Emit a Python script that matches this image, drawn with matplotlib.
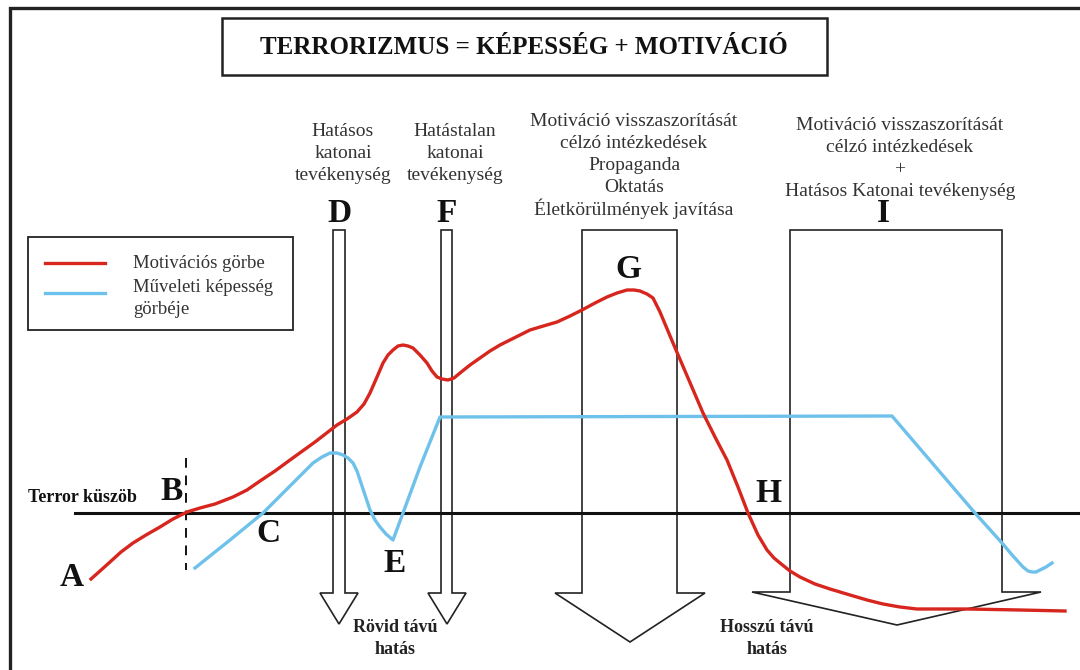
import matplotlib.pyplot as plt
from matplotlib.patches import Polygon, Rectangle

# diagram coordinates (x to the right, y downwards)
red_x = [91, 100, 110, 121, 133, 146, 160, 173, 187, 200, 215, 233, 247, 260, 275, 290, 315,
         337, 347, 357, 364, 370, 377, 383, 388, 393, 398, 403, 408, 413, 420, 427, 432, 437,
         442, 448, 454, 460, 470, 480, 490, 500, 510, 520, 530, 540, 557, 570, 582, 595, 607,
         617, 627, 634, 640, 647, 653, 660, 673, 688, 703, 715, 727, 738, 748, 758, 767, 774,
         780, 790, 800, 815, 830, 850, 867, 883, 900, 917, 940, 967, 1020, 1065]
red_y = [579, 571, 562, 552, 543, 535, 527, 519, 512, 508, 504, 497, 490, 481, 471, 460, 442,
         425, 419, 412, 404, 393, 377, 363, 355, 350, 346, 345, 346, 348, 355, 363, 371, 377,
         379, 380, 378, 373, 365, 358, 351, 345, 340, 335, 330, 327, 322, 316, 310, 303, 297,
         293, 290, 290, 291, 294, 298, 312, 343, 378, 413, 437, 460, 487, 513, 535, 550, 558,
         563, 571, 577, 584, 589, 595, 600, 604, 607, 609, 609, 609, 610, 611]

blue_x = [195, 230, 263, 293, 313, 322, 330, 337, 343, 348, 353, 357, 360, 365, 370, 375, 380,
          386, 393, 403, 420, 440, 892, 975, 1002, 1013, 1023, 1028, 1032, 1036, 1040, 1046,
          1052]
blue_y = [568, 540, 513, 483, 463, 457, 453, 453, 455, 458, 463, 471, 480, 495, 510, 520, 527,
          534, 540, 513, 467, 417, 416, 513, 543, 556, 567, 571, 572, 572, 570, 567, 563]

threshold_y = 513

# block arrows: shaft left, shaft right, top, head y, head left, head right, tip x, tip y
arrows = {
    'D': (333, 345, 230, 593, 320, 358, 339, 624),
    'F': (441, 452, 230, 593, 428, 466, 447, 624),
    'G': (582, 677, 230, 593, 555, 705, 630, 642),
    'I': (790, 1002, 230, 592, 752, 1041, 897, 625),
}

letters = ['A', 'B', 'C', 'D', 'E', 'F', 'G', 'H', 'I']
letter_x = [72, 172, 268, 340, 395, 447, 628, 768, 883]
letter_y = [578, 492, 533, 213, 563, 213, 270, 493, 213]

# (text lines, centre x, y of first line)
notes = [
    (['Hatásos', 'katonai', 'tevékenység'], 343, 131),
    (['Hatástalan', 'katonai', 'tevékenység'], 455, 131),
    (['Motiváció visszaszorítását', 'célzó intézkedések', 'Propaganda', 'Oktatás',
      'Életkörülmények javítása'], 634, 121),
    (['Motiváció visszaszorítását', 'célzó intézkedések', '+',
      'Hatásos Katonai tevékenység'], 900, 126),
]
effects = [(['Rövid távú', 'hatás'], 395, 627), (['Hosszú távú', 'hatás'], 767, 627)]

RED = '#d7261e'
BLUE = '#6ec1ea'
INK = '#222222'
SERIF = 'Liberation Serif'


def block_arrow(ax, a):
    l, r, top, hy, hl, hr, tx, ty = a
    pts = [(l, top), (r, top), (r, hy), (hr, hy), (tx, ty), (hl, hy), (l, hy)]
    ax.add_patch(Polygon(pts, closed=True, fill=False, edgecolor=INK, lw=1.2, zorder=2))


def lines(ax, rows, x, y0, step, **kw):
    for i, s in enumerate(rows):
        ax.text(x, y0 + i * step, s, ha='center', va='center', family=SERIF, **kw)


def main():
    fig = plt.figure(figsize=(10.8, 6.7), dpi=100)
    ax = fig.add_axes([0, 0, 1, 1])
    ax.set_xlim(0, 1080)
    ax.set_ylim(670, 0)
    ax.axis('off')

    # outer frame (left and top edges)
    ax.plot([10, 10, 1080], [670, 8, 8], color=INK, lw=2.4, solid_joinstyle='miter')

    # title box
    ax.add_patch(Rectangle((222, 18), 605, 57, fill=False, edgecolor=INK, lw=1.8))
    ax.text(524, 47, 'TERRORIZMUS = KÉPESSÉG + MOTIVÁCIÓ', family=SERIF, weight='bold',
            fontsize=18, ha='center', va='center', color='#111111')

    # legend box
    ax.add_patch(Rectangle((28, 237), 265, 93, fill=False, edgecolor=INK, lw=1.3))
    ax.plot([45, 105], [263, 263], color=RED, lw=2.4)
    ax.plot([45, 105], [293, 293], color=BLUE, lw=2.4)
    for s, y in [('Motivációs görbe', 263), ('Műveleti képesség', 288), ('görbéje', 310)]:
        ax.text(133, y, s, family=SERIF, fontsize=13.5, color='#333333', va='center')

    # arrows
    for a in arrows.values():
        block_arrow(ax, a)

    # terror threshold and dashed marker at B
    ax.plot([75, 1080], [threshold_y, threshold_y], color='#111111', lw=2.2, zorder=3)
    ax.plot([186, 186], [458, 570], color='#111111', lw=1.4, ls=(0, (5, 4)), zorder=3)
    ax.text(28, 497, 'Terror küszöb', family=SERIF, weight='bold', fontsize=13,
            color='#111111', va='center')

    # curves
    ax.plot(blue_x, blue_y, color=BLUE, lw=2.4, zorder=4, solid_joinstyle='round')
    ax.plot(red_x, red_y, color=RED, lw=2.4, zorder=5, solid_joinstyle='round')

    for s, x, y in zip(letters, letter_x, letter_y):
        ax.text(x, y, s, family=SERIF, weight='bold', fontsize=24, ha='center',
                va='center', color='#111111', zorder=6)

    for rows, x, y0 in notes:
        lines(ax, rows, x, y0, 22, fontsize=14, color='#333333')

    for rows, x, y0 in effects:
        lines(ax, rows, x, y0, 23, fontsize=13, weight='bold', color='#222222')

    fig.savefig('out.png', dpi=100)


if __name__ == '__main__':
    main()
